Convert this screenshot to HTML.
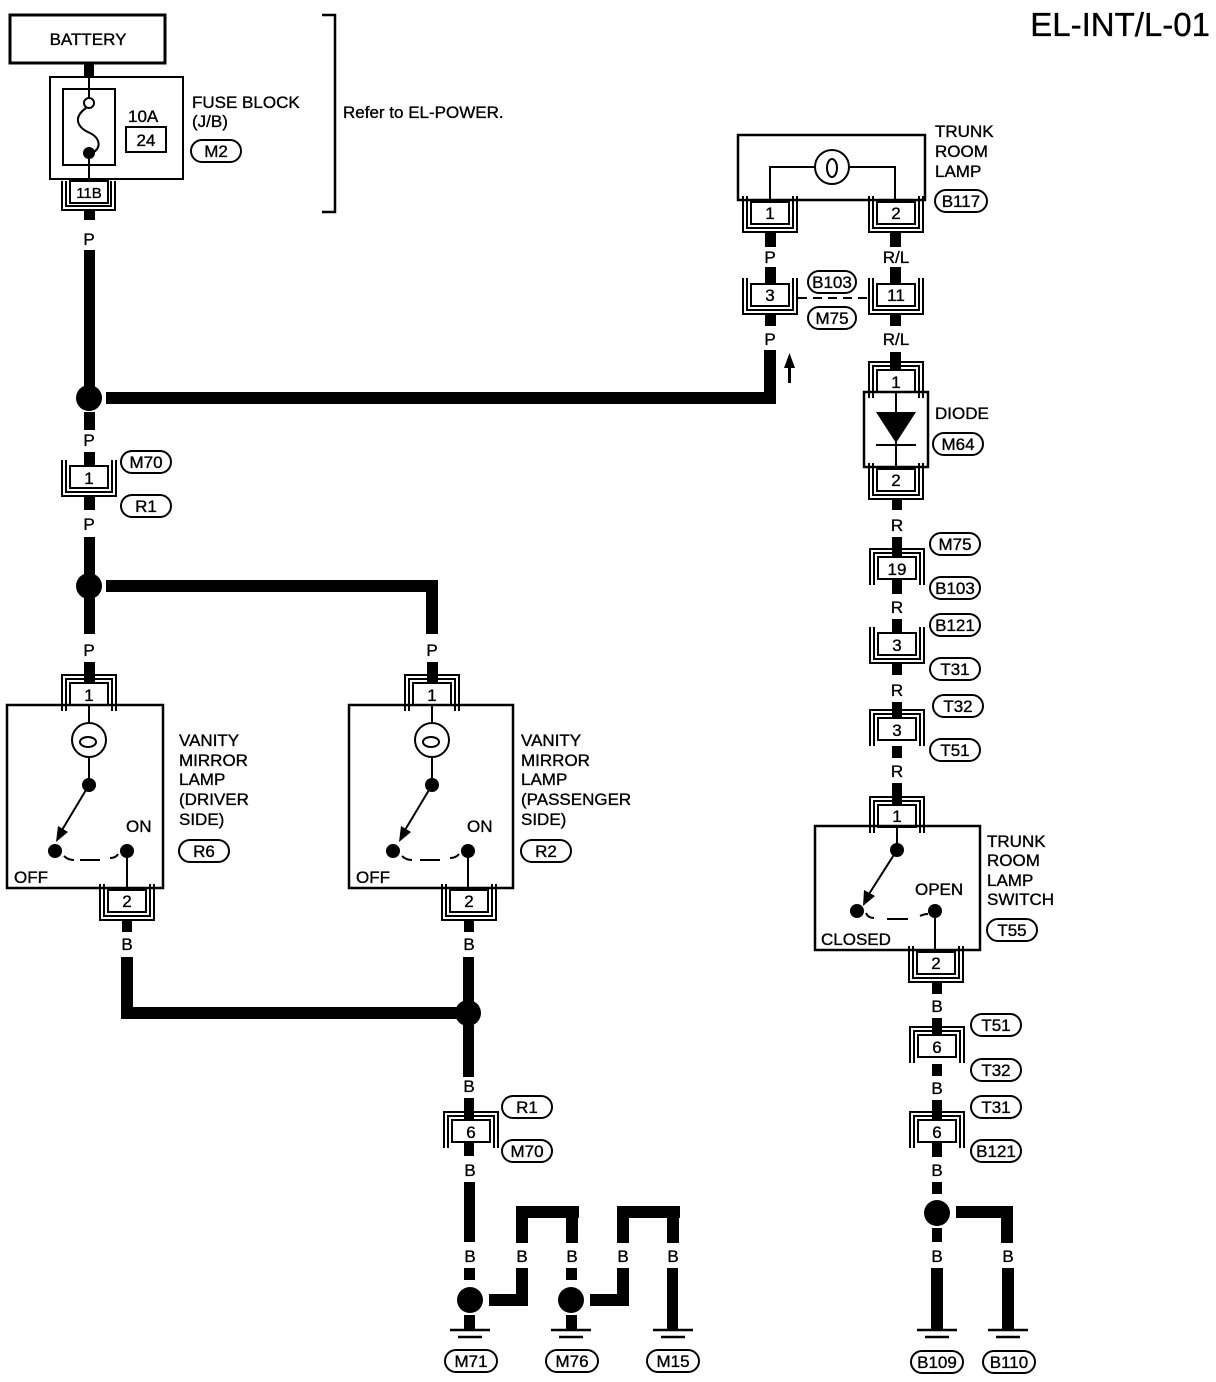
<!DOCTYPE html>
<html><head><meta charset="utf-8"><style>
html,body{margin:0;padding:0;background:#fff}
svg{display:block}
text{font-family:"Liberation Sans",sans-serif;font-size:17px;fill:#000;stroke:#000;stroke-width:0.35}
</style></head><body>
<svg width="1216" height="1382" viewBox="0 0 1216 1382" xmlns="http://www.w3.org/2000/svg">
<defs>
<g id="cb" fill="none" stroke="#000" stroke-width="2">
<rect x="-19" y="0" width="38" height="22" fill="#fff"/>
<path d="M-23,-6 V26 H23 V-6"/>
<path d="M-27,-6 V30 H27 V-6"/>
</g>
<g id="ct" fill="none" stroke="#000" stroke-width="2">
<rect x="-19" y="0" width="38" height="22" fill="#fff"/>
<path d="M-23,28 V-4 H23 V28"/>
<path d="M-27,28 V-8 H27 V28"/>
</g>
<g id="gnd" stroke="#000" stroke-width="2.5">
<line x1="-20" y1="0" x2="20" y2="0"/>
<line x1="-12" y1="7" x2="12" y2="7"/>
</g>
</defs>

<text x="1210" y="36" text-anchor="end" style="font-size:33px">EL-INT/L-01</text>

<rect x="10" y="15" width="155" height="48" fill="none" stroke="#000" stroke-width="3"/>
<text x="88" y="45" text-anchor="middle">BATTERY</text>
<rect x="84" y="63" width="10" height="15" fill="#000"/>
<rect x="50" y="77" width="133" height="102" fill="none" stroke="#000" stroke-width="2"/>
<rect x="63" y="89" width="52" height="76" fill="none" stroke="#000" stroke-width="2"/>
<line x1="89" y1="78" x2="89" y2="97" stroke="#000" stroke-width="2"/>
<circle cx="89" cy="103" r="5" fill="#fff" stroke="#000" stroke-width="2"/>
<path d="M86,108 C72,118 78,128 90,133 C100,138 102,148 92,153" fill="none" stroke="#000" stroke-width="2"/>
<circle cx="89" cy="153" r="6" fill="#000"/>
<line x1="89" y1="153" x2="89" y2="182" stroke="#000" stroke-width="2"/>
<text x="128" y="122">10A</text>
<rect x="126" y="127" width="40" height="25" fill="none" stroke="#000" stroke-width="2"/>
<text x="146" y="146" text-anchor="middle">24</text>
<text x="192" y="108">FUSE BLOCK</text>
<text x="192" y="127">(J/B)</text>
<rect x="191" y="140" width="50" height="22" rx="11" fill="none" stroke="#000" stroke-width="2"/>
<text x="216" y="157" text-anchor="middle">M2</text>
<rect x="70" y="181" width="38" height="22" fill="#fff" stroke="#000" stroke-width="2"/>
<path d="M66,181 V206 H111 V181 M62,181 V210 H115 V181" fill="none" stroke="#000" stroke-width="2"/>
<text x="89" y="198" text-anchor="middle" style="font-size:15px">11B</text>
<path d="M322,15 H335 V212 H322" fill="none" stroke="#000" stroke-width="2.5"/>
<text x="343" y="118">Refer to EL-POWER.</text>

<g fill="#000">
<rect x="84" y="210" width="11" height="10"/>
<text x="89" y="245" text-anchor="middle">P</text>
<rect x="84" y="250" width="11" height="140"/>
<circle cx="89" cy="398" r="13"/>
<rect x="106" y="392" width="669" height="12"/>
<rect x="764" y="350" width="12" height="54"/>
<rect x="84" y="412" width="11" height="18"/>
<text x="89" y="446" text-anchor="middle">P</text>
<rect x="84" y="452" width="11" height="14"/>
</g>
<use href="#cb" x="89" y="466"/>
<text x="89" y="484" text-anchor="middle">1</text>
<rect x="121" y="451" width="50" height="22" rx="11" fill="none" stroke="#000" stroke-width="2"/>
<text x="146" y="468" text-anchor="middle">M70</text>
<rect x="121" y="495" width="50" height="22" rx="11" fill="none" stroke="#000" stroke-width="2"/>
<text x="146" y="512" text-anchor="middle">R1</text>
<g fill="#000">
<rect x="84" y="496" width="11" height="14"/>
<text x="89" y="530" text-anchor="middle">P</text>
<rect x="84" y="537" width="11" height="40"/>
<circle cx="89" cy="586" r="13"/>
<rect x="106" y="580" width="332" height="12"/>
<rect x="426" y="580" width="12" height="54"/>
<rect x="84" y="598" width="11" height="36"/>
<text x="89" y="656" text-anchor="middle">P</text>
<text x="432" y="656" text-anchor="middle">P</text>
<rect x="84" y="662" width="11" height="21"/>
<rect x="427" y="662" width="11" height="21"/>
</g>

<use href="#ct" x="89" y="683"/>
<text x="89" y="701" text-anchor="middle">1</text>
<rect x="7" y="705" width="156" height="183" fill="none" stroke="#000" stroke-width="2.5"/>
<line x1="89" y1="705" x2="89" y2="785" stroke="#000" stroke-width="2"/>
<circle cx="89" cy="740" r="17" fill="#fff" stroke="#000" stroke-width="2"/>
<ellipse cx="88" cy="742" rx="8" ry="5" fill="none" stroke="#000" stroke-width="2"/>
<circle cx="89" cy="785" r="7" fill="#000"/>
<line x1="89" y1="785" x2="62" y2="830" stroke="#000" stroke-width="2"/>
<path d="M56,842 L58,826 L68,832 Z" fill="#000"/>
<circle cx="55" cy="851" r="7" fill="#000"/>
<circle cx="127" cy="851" r="7" fill="#000"/>
<path d="M64,856 Q68,860 74,860 M80,860 H100 M110,858 Q116,858 118,854" fill="none" stroke="#000" stroke-width="2"/>
<line x1="127" y1="851" x2="127" y2="890" stroke="#000" stroke-width="2"/>
<text x="126" y="832">ON</text>
<text x="14" y="883">OFF</text>
<use href="#cb" x="127" y="890"/>
<text x="127" y="907" text-anchor="middle">2</text>
<text x="179" y="746">VANITY</text>
<text x="179" y="766">MIRROR</text>
<text x="179" y="785">LAMP</text>
<text x="179" y="805">(DRIVER</text>
<text x="179" y="825"> SIDE)</text>
<rect x="179" y="840" width="50" height="22" rx="11" fill="none" stroke="#000" stroke-width="2"/>
<text x="204" y="857" text-anchor="middle">R6</text>

<use href="#ct" x="432" y="683"/>
<text x="432" y="701" text-anchor="middle">1</text>
<rect x="349" y="705" width="164" height="183" fill="none" stroke="#000" stroke-width="2.5"/>
<line x1="432" y1="705" x2="432" y2="785" stroke="#000" stroke-width="2"/>
<circle cx="432" cy="740" r="17" fill="#fff" stroke="#000" stroke-width="2"/>
<ellipse cx="431" cy="742" rx="8" ry="5" fill="none" stroke="#000" stroke-width="2"/>
<circle cx="432" cy="785" r="7" fill="#000"/>
<line x1="432" y1="785" x2="405" y2="830" stroke="#000" stroke-width="2"/>
<path d="M399,842 L401,826 L411,832 Z" fill="#000"/>
<circle cx="393" cy="851" r="7" fill="#000"/>
<circle cx="468" cy="851" r="7" fill="#000"/>
<path d="M402,856 Q406,860 412,860 M420,860 H440 M450,858 Q456,858 459,854" fill="none" stroke="#000" stroke-width="2"/>
<line x1="468" y1="851" x2="468" y2="890" stroke="#000" stroke-width="2"/>
<text x="467" y="832">ON</text>
<text x="356" y="883">OFF</text>
<use href="#cb" x="469" y="890"/>
<text x="469" y="907" text-anchor="middle">2</text>
<text x="521" y="746">VANITY</text>
<text x="521" y="766">MIRROR</text>
<text x="521" y="785">LAMP</text>
<text x="521" y="805">(PASSENGER</text>
<text x="521" y="825"> SIDE)</text>
<rect x="521" y="840" width="50" height="22" rx="11" fill="none" stroke="#000" stroke-width="2"/>
<text x="546" y="857" text-anchor="middle">R2</text>

<g fill="#000">
<rect x="122" y="920" width="10" height="12"/>
<rect x="464" y="920" width="10" height="12"/>
<text x="127" y="950" text-anchor="middle">B</text>
<text x="469" y="950" text-anchor="middle">B</text>
<rect x="121" y="957" width="12" height="62"/>
<rect x="121" y="1007" width="340" height="12"/>
<rect x="463" y="957" width="11" height="45"/>
<circle cx="468" cy="1013" r="13"/>
<rect x="463" y="1025" width="11" height="52"/>
<text x="469" y="1092" text-anchor="middle">B</text>
<rect x="464" y="1098" width="10" height="22"/>
</g>
<use href="#ct" x="471" y="1120"/>
<text x="471" y="1138" text-anchor="middle">6</text>
<rect x="502" y="1096" width="50" height="22" rx="11" fill="none" stroke="#000" stroke-width="2"/>
<text x="527" y="1113" text-anchor="middle">R1</text>
<rect x="502" y="1140" width="50" height="22" rx="11" fill="none" stroke="#000" stroke-width="2"/>
<text x="527" y="1157" text-anchor="middle">M70</text>
<g fill="#000">
<rect x="464" y="1142" width="10" height="14"/>
<text x="470" y="1176" text-anchor="middle">B</text>
<rect x="464" y="1182" width="11" height="60"/>
<text x="470" y="1262" text-anchor="middle">B</text>
<rect x="464" y="1268" width="11" height="12"/>
<circle cx="470" cy="1300" r="13"/>
<rect x="464" y="1315" width="11" height="15"/>
<rect x="489" y="1294" width="39" height="12"/>
<rect x="516" y="1268" width="12" height="38"/>
<text x="522" y="1262" text-anchor="middle">B</text>
<rect x="516" y="1206" width="12" height="37"/>
<rect x="516" y="1206" width="63" height="12"/>
<rect x="566" y="1206" width="12" height="37"/>
<text x="572" y="1262" text-anchor="middle">B</text>
<rect x="566" y="1268" width="11" height="12"/>
<circle cx="571" cy="1300" r="13"/>
<rect x="566" y="1315" width="11" height="15"/>
<rect x="590" y="1294" width="39" height="12"/>
<rect x="617" y="1268" width="12" height="38"/>
<text x="623" y="1262" text-anchor="middle">B</text>
<rect x="617" y="1206" width="12" height="37"/>
<rect x="617" y="1206" width="63" height="12"/>
<rect x="667" y="1206" width="12" height="37"/>
<text x="673" y="1262" text-anchor="middle">B</text>
<rect x="667" y="1268" width="11" height="62"/>
</g>
<use href="#gnd" x="470" y="1330"/>
<use href="#gnd" x="571" y="1330"/>
<use href="#gnd" x="673" y="1330"/>
<rect x="445" y="1350" width="52" height="22" rx="11" fill="none" stroke="#000" stroke-width="2"/>
<text x="471" y="1367" text-anchor="middle">M71</text>
<rect x="546" y="1350" width="52" height="22" rx="11" fill="none" stroke="#000" stroke-width="2"/>
<text x="572" y="1367" text-anchor="middle">M76</text>
<rect x="647" y="1350" width="52" height="22" rx="11" fill="none" stroke="#000" stroke-width="2"/>
<text x="673" y="1367" text-anchor="middle">M15</text>

<rect x="738" y="135" width="187" height="65" fill="none" stroke="#000" stroke-width="2.5"/>
<path d="M770,203 V167 H895 V203" fill="none" stroke="#000" stroke-width="2"/>
<circle cx="832" cy="167" r="17" fill="#fff" stroke="#000" stroke-width="2"/>
<ellipse cx="832" cy="168" rx="5" ry="9" fill="none" stroke="#000" stroke-width="2"/>
<text x="935" y="137">TRUNK</text>
<text x="935" y="157">ROOM</text>
<text x="935" y="177">LAMP</text>
<rect x="935" y="190" width="52" height="22" rx="11" fill="none" stroke="#000" stroke-width="2"/>
<text x="961" y="207" text-anchor="middle">B117</text>
<use href="#cb" x="770" y="202"/>
<text x="770" y="219" text-anchor="middle">1</text>
<use href="#cb" x="896" y="202"/>
<text x="896" y="219" text-anchor="middle">2</text>
<g fill="#000">
<rect x="765" y="233" width="11" height="14"/>
<text x="770" y="263" text-anchor="middle">P</text>
<rect x="765" y="267" width="11" height="17"/>
<rect x="890" y="233" width="11" height="14"/>
<text x="896" y="263" text-anchor="middle">R/L</text>
<rect x="890" y="267" width="11" height="17"/>
</g>
<use href="#cb" x="770" y="284"/>
<text x="770" y="301" text-anchor="middle">3</text>
<use href="#cb" x="896" y="284"/>
<text x="896" y="301" text-anchor="middle">11</text>
<line x1="798" y1="298" x2="868" y2="298" stroke="#000" stroke-width="2" stroke-dasharray="9,6"/>
<rect x="808" y="271" width="48" height="22" rx="11" fill="#fff" stroke="#000" stroke-width="2"/>
<text x="832" y="288" text-anchor="middle">B103</text>
<rect x="808" y="307" width="48" height="22" rx="11" fill="none" stroke="#000" stroke-width="2"/>
<text x="832" y="324" text-anchor="middle">M75</text>
<g fill="#000">
<rect x="765" y="314" width="11" height="12"/>
<text x="770" y="345" text-anchor="middle">P</text>
<rect x="890" y="314" width="11" height="12"/>
<text x="896" y="345" text-anchor="middle">R/L</text>
<rect x="890" y="352" width="11" height="18"/>
<rect x="788" y="365" width="3" height="18"/>
<path d="M784,368 L789.5,353 L795,368 Z"/>
</g>
<use href="#ct" x="896" y="370"/>
<text x="896" y="388" text-anchor="middle">1</text>
<rect x="864" y="392" width="64" height="75" fill="none" stroke="#000" stroke-width="2.5"/>
<line x1="896" y1="392" x2="896" y2="467" stroke="#000" stroke-width="2"/>
<path d="M876,412 H916 L896,443 Z" fill="#000"/>
<line x1="876" y1="445" x2="916" y2="445" stroke="#000" stroke-width="2"/>
<text x="935" y="419">DIODE</text>
<rect x="933" y="433" width="50" height="22" rx="11" fill="none" stroke="#000" stroke-width="2"/>
<text x="958" y="450" text-anchor="middle">M64</text>
<use href="#cb" x="896" y="469"/>
<text x="896" y="486" text-anchor="middle">2</text>

<g fill="#000">
<rect x="892" y="500" width="10" height="10"/>
<text x="897" y="531" text-anchor="middle">R</text>
<rect x="892" y="537" width="10" height="20"/>
</g>
<use href="#ct" x="897" y="557"/>
<text x="897" y="575" text-anchor="middle">19</text>
<rect x="930" y="533" width="50" height="22" rx="11" fill="none" stroke="#000" stroke-width="2"/>
<text x="955" y="550" text-anchor="middle">M75</text>
<rect x="930" y="577" width="50" height="22" rx="11" fill="none" stroke="#000" stroke-width="2"/>
<text x="955" y="594" text-anchor="middle">B103</text>
<g fill="#000">
<rect x="892" y="580" width="10" height="14"/>
<text x="897" y="613" text-anchor="middle">R</text>
<rect x="892" y="619" width="10" height="14"/>
</g>
<use href="#cb" x="897" y="633"/>
<text x="897" y="651" text-anchor="middle">3</text>
<rect x="930" y="614" width="50" height="22" rx="11" fill="none" stroke="#000" stroke-width="2"/>
<text x="955" y="631" text-anchor="middle">B121</text>
<rect x="930" y="658" width="50" height="22" rx="11" fill="none" stroke="#000" stroke-width="2"/>
<text x="955" y="675" text-anchor="middle">T31</text>
<g fill="#000">
<rect x="892" y="663" width="10" height="12"/>
<text x="897" y="696" text-anchor="middle">R</text>
<rect x="892" y="702" width="10" height="16"/>
</g>
<use href="#ct" x="897" y="718"/>
<text x="897" y="736" text-anchor="middle">3</text>
<rect x="933" y="695" width="50" height="22" rx="11" fill="none" stroke="#000" stroke-width="2"/>
<text x="958" y="712" text-anchor="middle">T32</text>
<rect x="930" y="739" width="50" height="22" rx="11" fill="none" stroke="#000" stroke-width="2"/>
<text x="955" y="756" text-anchor="middle">T51</text>
<g fill="#000">
<rect x="892" y="746" width="10" height="12"/>
<text x="897" y="777" text-anchor="middle">R</text>
<rect x="892" y="783" width="10" height="22"/>
</g>
<use href="#ct" x="897" y="805"/>
<text x="897" y="822" text-anchor="middle">1</text>

<rect x="815" y="826" width="165" height="124" fill="none" stroke="#000" stroke-width="2.5"/>
<line x1="897" y1="826" x2="897" y2="850" stroke="#000" stroke-width="2"/>
<circle cx="897" cy="850" r="7" fill="#000"/>
<line x1="897" y1="850" x2="869" y2="894" stroke="#000" stroke-width="2"/>
<path d="M863,906 L864,890 L875,896 Z" fill="#000"/>
<circle cx="857" cy="911" r="7" fill="#000"/>
<circle cx="935" cy="911" r="7" fill="#000"/>
<path d="M866,913 Q868,918 874,918 M887,919 H908 M920,916 Q924,914 928,914" fill="none" stroke="#000" stroke-width="2"/>
<line x1="935" y1="911" x2="935" y2="952" stroke="#000" stroke-width="2"/>
<text x="915" y="895">OPEN</text>
<text x="821" y="945">CLOSED</text>
<text x="987" y="847">TRUNK</text>
<text x="987" y="866">ROOM</text>
<text x="987" y="886">LAMP</text>
<text x="987" y="905">SWITCH</text>
<rect x="987" y="919" width="50" height="22" rx="11" fill="none" stroke="#000" stroke-width="2"/>
<text x="1012" y="936" text-anchor="middle">T55</text>
<use href="#cb" x="936" y="952"/>
<text x="936" y="969" text-anchor="middle">2</text>

<g fill="#000">
<rect x="932" y="982" width="10" height="12"/>
<text x="937" y="1012" text-anchor="middle">B</text>
<rect x="932" y="1018" width="10" height="17"/>
</g>
<use href="#ct" x="937" y="1035"/>
<text x="937" y="1053" text-anchor="middle">6</text>
<rect x="971" y="1014" width="50" height="22" rx="11" fill="none" stroke="#000" stroke-width="2"/>
<text x="996" y="1031" text-anchor="middle">T51</text>
<rect x="971" y="1059" width="50" height="22" rx="11" fill="none" stroke="#000" stroke-width="2"/>
<text x="996" y="1076" text-anchor="middle">T32</text>
<g fill="#000">
<rect x="932" y="1064" width="10" height="12"/>
<text x="937" y="1094" text-anchor="middle">B</text>
<rect x="932" y="1100" width="10" height="20"/>
</g>
<use href="#ct" x="937" y="1120"/>
<text x="937" y="1138" text-anchor="middle">6</text>
<rect x="971" y="1096" width="50" height="22" rx="11" fill="none" stroke="#000" stroke-width="2"/>
<text x="996" y="1113" text-anchor="middle">T31</text>
<rect x="971" y="1140" width="50" height="22" rx="11" fill="none" stroke="#000" stroke-width="2"/>
<text x="996" y="1157" text-anchor="middle">B121</text>
<g fill="#000">
<rect x="932" y="1143" width="10" height="14"/>
<text x="937" y="1176" text-anchor="middle">B</text>
<rect x="932" y="1182" width="10" height="12"/>
<circle cx="937" cy="1213" r="13"/>
<rect x="932" y="1228" width="10" height="14"/>
<rect x="956" y="1206" width="57" height="12"/>
<rect x="1001" y="1206" width="12" height="37"/>
<text x="937" y="1262" text-anchor="middle">B</text>
<text x="1008" y="1262" text-anchor="middle">B</text>
<rect x="931" y="1268" width="12" height="62"/>
<rect x="1002" y="1268" width="12" height="62"/>
</g>
<use href="#gnd" x="937" y="1330"/>
<use href="#gnd" x="1008" y="1330"/>
<rect x="911" y="1351" width="52" height="22" rx="11" fill="none" stroke="#000" stroke-width="2"/>
<text x="937" y="1368" text-anchor="middle">B109</text>
<rect x="983" y="1351" width="52" height="22" rx="11" fill="none" stroke="#000" stroke-width="2"/>
<text x="1009" y="1368" text-anchor="middle">B110</text>
</svg>
</body></html>
